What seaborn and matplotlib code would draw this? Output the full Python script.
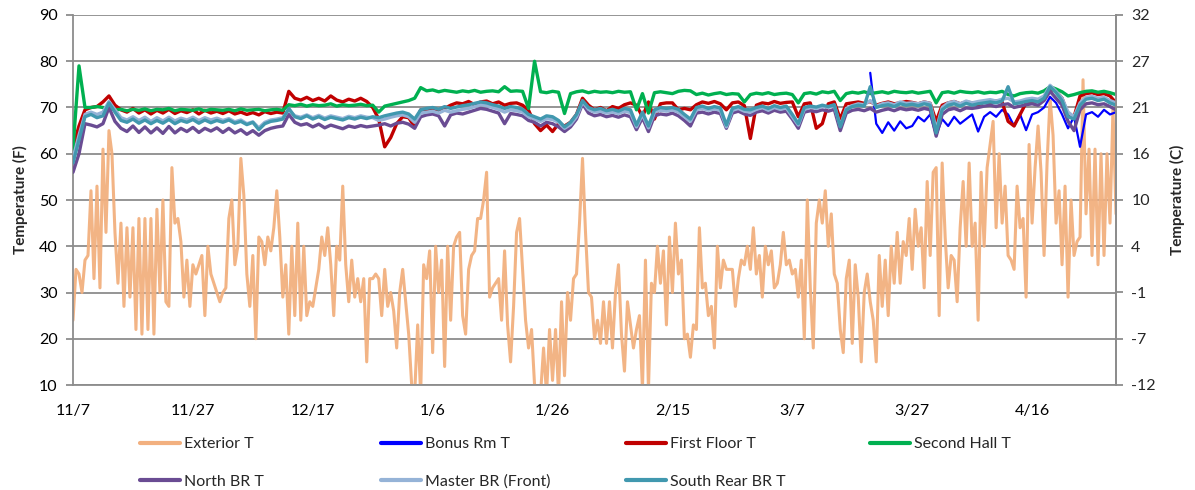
import numpy as np
import pandas as pd
import matplotlib
matplotlib.use("Agg")
import matplotlib.pyplot as plt
from matplotlib.lines import Line2D
import seaborn as sns

# ---------------- data ----------------
start_date = "2013-11-07"
n_days = 175  # daily indoor readings, 11/7 .. 4/30

# Exterior temperature, every 12 hours (F)
exterior_t = [
    24, 35, 34, 30, 37, 38, 52, 33, 53, 31, 61, 43, 65, 60, 43, 32, 45, 27, 44, 29,
    44, 22, 46, 21, 46, 22, 46, 21, 48, 30, 50, 28, 27, 57, 45, 46, 41, 29, 37, 27,
    36, 34, 36, 38, 25, 40, 34, 32, 30, 28,
    30, 31, 46, 50, 36, 40, 59, 51, 34, 27, 38, 20, 42, 41, 36, 42, 39, 44, 52, 42,
    29, 36, 21, 40, 25, 45, 24, 40, 25, 28, 27, 31, 35, 42, 38, 44, 36, 25, 40, 37,
    53, 36, 28, 37, 29, 33, 28, 33, 15, 33,
    33, 34, 33, 25, 35, 27, 30, 26, 18, 30, 35, 28, 21, 10, 8, 23, 8, 36, 33, 39,
    17, 40, 30, 37, 14, 40, 24, 40, 42, 43, 25, 21, 35, 38, 39, 46, 46, 50, 56, 29,
    31, 32, 33, 24, 39, 23, 15, 27, 43, 46,
    35, 24, 18, 22, 10, 9, 8, 18, 8, 22, 11, 22, 8, 28, 12, 30, 24, 33, 34, 45,
    59, 43, 30, 29, 20, 24, 19, 28, 19, 28, 18, 30, 36, 21, 13, 28, 23, 18, 22, 25,
    9, 37, 9, 32, 30, 40, 32, 39, 23, 42,
    30, 45, 34, 37, 20, 21, 16, 23, 22, 44, 31, 32, 25, 27, 18, 40, 31, 37, 35, 35,
    35, 27, 33, 37, 36, 40, 35, 44, 34, 38, 29, 40, 36, 39, 31, 32, 36, 43, 36, 37,
    34, 35, 29, 37, 20, 50, 31, 18, 45, 50,
    45, 52, 40, 47, 34, 32, 22, 17, 33, 37, 19, 36, 29, 15, 30, 34, 28, 24, 15, 38,
    27, 37, 25, 40, 32, 43, 32, 41, 38, 46, 35, 48, 40, 44, 31, 54, 38, 56, 57, 25,
    58, 42, 31, 38, 37, 28, 44, 54, 40, 58,
    40, 45, 24, 56, 40, 57, 62, 67, 44, 60, 45, 53, 38, 37, 35, 53, 44, 46, 29, 62,
    45, 57, 66, 56, 38, 58, 72, 64, 45, 52, 36, 53, 29, 50, 38, 41, 42, 76, 47, 61,
    38, 61, 36, 60, 38, 60, 45, 70, 47,
]

bonus_rm_t = [np.nan] * 133 + [
    77.5, 66.5, 64.5, 66.8, 65.0, 67.0, 65.5,
    66.0, 68.0, 67.0, 68.5, 64.0, 67.5, 66.0, 68.0, 66.5, 67.5,
    68.5, 64.8, 68.0, 69.0, 68.0, 69.5, 68.5, 66.0, 68.5, 65.1,
    68.5, 69.0, 70.0, 72.3, 71.0, 68.5, 65.5, 68.0, 61.5, 68.5,
    69.0, 68.0, 69.5, 68.5, 69.0,
]

first_floor_t = [
    61.5, 66, 69.5, 70, 70.2, 71.2, 72.5, 70.5, 69.5, 69.0,
    69.8, 68.8, 69.5, 68.6, 69.4, 68.8, 69.6, 68.7, 69.3, 68.9,
    69.5, 68.6, 69.4, 68.8, 69.2, 68.7, 69.3, 68.6, 69.0, 68.5,
    68.9, 68.4, 69.1, 68.7, 69.0, 68.8, 73.5, 72.0, 71.6, 72.2,
    71.5, 72.0, 71.4, 72.5, 71.6, 71.2, 71.8, 71.4, 72.0, 71.3,
    70.0, 67.5, 61.5, 63.5, 66.5, 68.0, 67.8, 65.8, 69.5, 69.2,
    69.6, 69.4, 69.8, 70.5, 71.0, 70.8, 71.3, 70.6, 71.2, 71.4,
    70.8, 71.2, 70.5, 70.9, 71.0, 70.5, 69.4, 66.5, 65.0, 66.2,
    64.8, 66.5, 66.0, 66.8, 68.5, 72.0, 70.5, 69.5, 70.0, 69.3,
    70.2, 69.8, 70.6, 71.0, 70.5, 68.0, 71.2, 67.5, 70.8, 71.0,
    71.0, 69.5, 69.8, 69.5, 70.6, 71.2, 70.9, 71.3, 70.8, 69.5,
    71.0, 71.2, 70.4, 63.3, 70.5, 71.0, 70.8, 71.3, 70.9, 71.1,
    71.2, 68.0, 70.8, 71.0, 65.5, 66.5, 70.8, 71.2, 67.5, 70.8,
    71.0, 71.2, 70.9, 71.3, 70.5, 70.9, 71.2, 70.8, 71.0, 71.3,
    71.1, 70.8, 71.2, 70.9, 67.0, 70.5, 71.0, 71.3, 70.8, 71.2,
    71.0, 70.5, 71.2, 71.0, 71.4, 71.2, 67.0, 66.0, 68.5, 71.0,
    71.3, 71.5, 72.0, 74.0, 73.5, 72.0, 68.5, 68.0, 72.5, 73.0,
    73.2, 72.8, 73.0, 72.5, 71.0,
]

second_hall_t = [
    61, 79, 70, 70, 70.2, 70, 69.8, 69.5, 69.6, 69.3,
    69.6, 69.4, 69.7, 69.3, 69.6, 69.5, 69.8, 69.3, 69.6, 69.5,
    69.4, 69.7, 69.3, 69.6, 69.5, 69.4, 69.6, 69.3, 69.7, 69.4,
    69.5, 69.6, 69.3, 69.5, 69.6, 69.4, 70.6, 70.4, 70.7, 70.3,
    70.6, 70.4, 70.5, 70.8, 70.3, 70.6, 70.4, 70.5, 70.7, 70.4,
    70.5, 69.0, 70.3, 70.6, 70.9, 71.2, 71.5, 72.0, 74.3, 73.6,
    73.8, 73.4, 73.7, 73.5, 73.3, 73.6, 73.4, 73.7, 73.3, 73.5,
    73.6, 73.4, 74.5, 73.5, 73.6, 73.5, 69.8, 80.0, 73.4, 73.2,
    73.5, 73.3, 68.7, 73.0, 73.4, 73.6, 73.2, 73.5, 73.3, 73.4,
    73.2, 73.5, 73.3, 73.4, 69.5, 73.0, 68.8, 73.2, 73.4, 73.2,
    73.0, 73.5, 73.7, 73.6, 72.8, 73.1, 72.7, 73.0, 73.2, 72.8,
    73.0, 72.9, 71.2, 72.8, 73.1, 72.9, 73.2, 72.8, 73.0, 73.1,
    72.8, 71.0, 73.0, 73.2, 72.9, 73.4, 73.2, 73.5, 71.5, 73.0,
    73.3, 73.1, 73.4, 73.0, 73.2, 73.4, 73.1, 73.5, 73.3, 73.2,
    73.4, 73.1, 73.3, 73.5, 71.0, 73.2, 73.4, 73.1, 73.5, 73.3,
    73.2, 73.4, 73.1, 73.3, 73.2, 73.5, 72.8, 72.5, 73.0, 73.2,
    73.3, 73.1, 73.6, 74.5, 74.0, 73.4, 72.5, 72.8, 73.2, 73.5,
    73.6, 73.3, 73.5, 73.2, 72.8,
]

north_br_t = [
    56, 60, 66.5, 66.2, 65.8, 66.5, 70.0, 67.0, 65.5, 64.8,
    66.0, 64.6, 65.8, 64.5, 65.6, 64.4, 65.9, 64.5, 65.5, 64.8,
    65.7, 64.6, 65.5, 64.9, 65.6, 64.6, 65.5, 64.5, 65.2, 64.2,
    65.0, 64.0, 65.0, 65.5, 65.8, 66.0, 68.5, 66.8, 66.2, 66.5,
    65.8, 66.4, 65.6, 66.2, 65.8, 65.4, 66.0, 65.7, 66.1, 65.8,
    66.0, 66.2, 66.5, 66.0, 66.6, 66.8, 66.4, 65.5, 68.0, 68.4,
    68.6, 68.2, 66.0, 68.4, 68.8, 68.6, 69.0, 69.4, 69.8, 69.6,
    69.2, 68.8, 66.5, 68.7, 68.5, 68.2, 67.2, 66.8, 66.0, 66.8,
    66.5, 65.8, 64.8, 65.8, 67.5, 70.8, 68.8, 68.2, 68.5, 68.0,
    68.3, 67.9, 68.4, 68.0, 65.2, 67.8, 64.8, 68.2, 68.6, 68.4,
    68.8, 68.2, 67.2, 66.0, 68.8, 69.0, 68.6, 69.0, 68.7, 65.5,
    68.8, 69.2, 68.6, 68.3, 69.0, 69.3, 68.8, 69.4, 69.0, 69.2,
    67.5, 65.5, 69.0, 69.3, 69.1, 69.5, 69.2, 69.6, 65.0, 68.8,
    69.4, 69.6, 69.3, 69.8, 69.0, 69.4, 69.7, 69.3, 69.8, 69.5,
    69.7, 69.4, 69.8, 69.5, 63.8, 68.5, 69.5, 69.8, 69.3, 69.9,
    69.8, 70.0, 70.3, 70.5, 70.2, 70.6, 70.8, 70.0, 70.3, 70.6,
    70.8, 70.5, 71.5, 73.5, 72.0, 70.5, 67.0, 65.0, 69.5, 70.8,
    71.0, 70.6, 70.8, 70.2, 69.5,
]

master_br_front = [
    59, 64, 68.5, 69, 68.5, 69.0, 71.3, 69.5, 67.8, 67.3,
    68.0, 67.2, 67.9, 67.0, 67.8, 67.1, 67.9, 67.1, 67.7, 67.3,
    67.9, 67.2, 67.8, 67.3, 67.7, 67.2, 67.6, 66.9, 67.3, 66.5,
    66.9, 65.6, 66.8, 67.3, 67.5, 67.8, 69.5, 68.2, 67.9, 68.4,
    67.8, 68.3, 67.7, 68.2, 67.9, 67.6, 68.1, 67.8, 68.2, 67.9,
    67.8, 67.2, 67.5, 67.9, 68.2, 68.4, 68.0, 66.8, 68.8, 69.0,
    69.2, 68.8, 69.4, 69.0, 69.3, 69.6, 69.8, 70.2, 70.6, 70.4,
    70.0, 69.6, 69.0, 69.5, 69.3, 69.0, 68.0, 67.5, 67.0, 67.6,
    67.4, 66.8, 65.5, 66.3, 68.0, 71.2, 69.6, 69.0, 69.2, 68.8,
    69.0, 68.7, 69.2, 68.9, 65.8, 68.5, 65.6, 69.0, 69.4, 69.2,
    69.5, 69.0, 68.0, 67.0, 69.5, 69.8, 69.4, 69.7, 69.4, 65.8,
    69.4, 69.8, 69.2, 69.0, 69.6, 70.0, 69.4, 70.0, 69.6, 69.9,
    68.0, 66.2, 69.6, 70.0, 69.8, 70.2, 70.0, 70.5, 66.0, 69.8,
    70.4, 70.8, 70.6, 71.5, 70.3, 70.8, 71.0, 70.6, 71.2, 70.9,
    71.0, 70.8, 71.2, 70.9, 65.2, 70.0, 71.0, 71.3, 70.8, 71.4,
    71.0, 71.3, 71.5, 71.7, 71.4, 71.8, 72.0, 71.2, 71.4, 71.8,
    72.0, 71.8, 72.5, 74.8, 73.5, 72.0, 69.0, 68.0, 71.0, 72.2,
    72.4, 72.0, 72.2, 71.5, 71.0,
]

south_rear_br_t = [
    58, 63, 68, 68.5, 67.8, 68.2, 71.0, 69.0, 67.2, 66.8,
    67.5, 66.6, 67.3, 66.5, 67.2, 66.6, 67.4, 66.5, 67.2, 66.8,
    67.4, 66.6, 67.3, 66.7, 67.2, 66.8, 67.3, 66.6, 67.0, 66.3,
    66.8, 65.2, 66.5, 67.0, 67.2, 67.5, 69.8, 68.0, 67.6, 68.2,
    67.5, 68.0, 67.4, 67.9, 67.6, 67.3, 67.8, 67.5, 67.9, 67.6,
    68.0, 67.8, 68.2, 68.5, 68.8, 69.0, 68.6, 67.5, 69.5, 69.8,
    70.0, 69.6, 70.2, 69.8, 70.1, 70.4, 70.6, 70.9, 71.2, 71.0,
    70.6, 70.3, 69.8, 70.2, 70.0, 69.6, 68.5, 68.0, 67.5, 68.2,
    68.0, 67.2, 65.8, 66.8, 68.5, 71.5, 70.0, 69.5, 69.8, 69.3,
    69.6, 69.2, 69.8, 69.5, 66.2, 69.0, 66.0, 69.5, 70.0, 69.8,
    70.0, 69.6, 68.5, 67.5, 70.0, 70.3, 69.8, 70.2, 69.9, 66.2,
    69.8, 70.2, 69.6, 69.5, 70.0, 70.3, 69.8, 70.4, 70.0, 70.3,
    68.5, 66.5, 70.0, 70.3, 70.1, 70.5, 70.2, 70.6, 65.8, 69.5,
    70.2, 70.5, 70.3, 74.5, 70.0, 70.4, 70.6, 70.2, 70.8, 70.5,
    70.7, 70.4, 70.8, 70.5, 64.5, 69.5, 70.5, 70.8, 70.3, 70.9,
    70.5, 70.8, 71.0, 71.2, 71.0, 71.4, 74.5, 70.8, 71.0, 71.3,
    71.5, 71.2, 72.0, 74.5, 73.2, 71.5, 68.0, 67.5, 70.5, 71.8,
    72.0, 71.5, 71.8, 71.0, 70.5,
]

series_labels = ["Exterior T", "Bonus Rm T", "First Floor T", "Second Hall T",
                 "North BR T", "Master BR (Front)", "South Rear BR T"]
series_colors = ["#F2B07F", "#0000FF", "#C00000", "#00B050",
                 "#6A4C93", "#95B3D7", "#4198AF"]

left_ticks_f = [10, 20, 30, 40, 50, 60, 70, 80, 90]
right_tick_labels_c = ["-12", "-7", "-1", "4", "10", "16", "21", "27", "32"]
x_tick_labels = ["11/7", "11/27", "12/17", "1/6", "1/26", "2/15", "3/7", "3/27", "4/16"]

# ---------------- frames ----------------
t0 = pd.Timestamp(start_date)
ext_dates = pd.date_range(t0, periods=len(exterior_t), freq="12h")
day_dates = pd.date_range(t0, periods=n_days, freq="D")
ext_df = pd.DataFrame({"date": ext_dates, "temp": exterior_t})
indoor = [bonus_rm_t, first_floor_t, second_hall_t, north_br_t, master_br_front, south_rear_br_t]

# ---------------- plot ----------------
sns.set_style("white")
plt.rcParams["font.family"] = ["Lato", "DejaVu Sans"]

fig = plt.figure(figsize=(11.95, 4.90), dpi=100)
ax = fig.add_axes([73 / 1195, 1 - 385 / 490, (1116 - 73) / 1195, 370 / 490])

grid_c = "#8C8C8C"
for yv in left_ticks_f:
    ax.axhline(yv, color=grid_c, lw=1.3, zorder=0)

sns.lineplot(data=ext_df, x="date", y="temp", ax=ax, color=series_colors[0],
             lw=2.2, alpha=0.95, zorder=2)
widths = [1.6, 2.4, 2.4, 2.4, 2.4, 2.4]
for i, vals in enumerate(indoor):
    df = pd.DataFrame({"date": day_dates, "temp": vals}).dropna()
    sns.lineplot(data=df, x="date", y="temp", ax=ax, color=series_colors[i + 1],
                 lw=widths[i], zorder=3 + i)

ax.set_ylim(10, 90)
ax.set_xlim(t0, t0 + pd.Timedelta(days=174))
ax.set_yticks(left_ticks_f)
ax.set_yticklabels([str(v) for v in left_ticks_f])
xt = [t0 + pd.Timedelta(days=20 * k) for k in range(len(x_tick_labels))]
ax.set_xticks(xt)
ax.set_xticklabels(x_tick_labels)
ax.set_xlabel("")
ax.set_ylabel("Temperature (F)", fontsize=11, fontweight="bold", labelpad=8)

ax.spines["top"].set_visible(False)
for s in ["left", "bottom", "right"]:
    ax.spines[s].set_color(grid_c)
    ax.spines[s].set_linewidth(1.3)
ax.tick_params(axis="both", which="major", labelsize=11.5, colors="black",
               length=5, width=1.3, direction="out")
ax.tick_params(axis="x", color=grid_c, pad=9)
ax.tick_params(axis="y", color=grid_c, pad=6)

ax2 = ax.twinx()
ax2.set_ylim(10, 90)
ax2.set_yticks(left_ticks_f)
ax2.set_yticklabels(right_tick_labels_c)
ax2.tick_params(axis="y", labelsize=11.5, length=5, width=1.3, color=grid_c, pad=6)
ax2.set_ylabel("Temperature (C)", fontsize=11, fontweight="bold", labelpad=10)
for s in ["top", "left", "bottom"]:
    ax2.spines[s].set_visible(False)
ax2.spines["right"].set_color(grid_c)
ax2.spines["right"].set_linewidth(1.3)

# legend: 4 equally spaced columns, 2 rows
col_x = [140, 381, 626, 870]
rows = [[0, 4], [1, 5], [2, 6], [3]]
for cx, idxs in zip(col_x, rows):
    handles = [Line2D([0], [0], color=series_colors[j], lw=3) for j in idxs]
    labels = [series_labels[j] for j in idxs]
    fig.legend(handles, labels, loc="upper left",
               bbox_to_anchor=(cx / 1195, 1 - 437 / 490),
               frameon=False, fontsize=11.5, handlelength=2.5, handletextpad=0.25,
               labelspacing=1.45, borderpad=0, borderaxespad=0)

fig.savefig("out.png", dpi=100)
